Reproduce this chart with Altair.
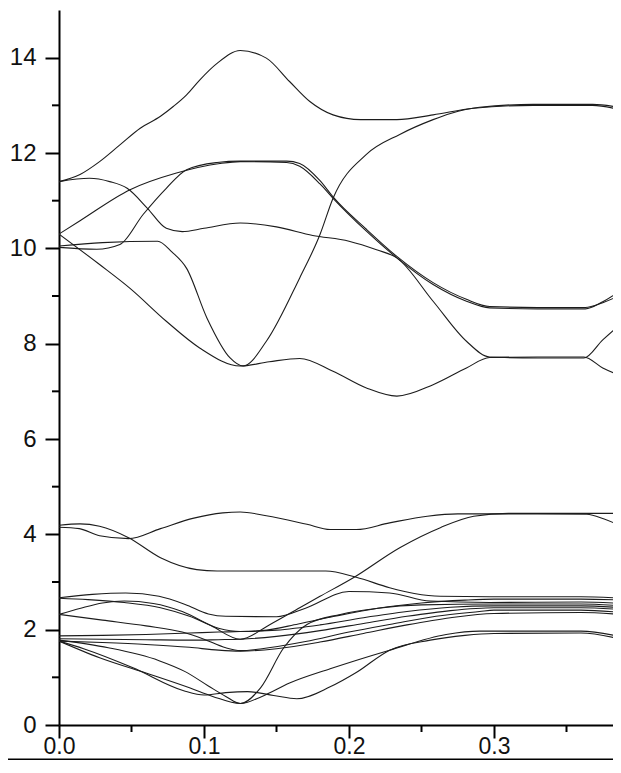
import altair as alt
import pandas as pd

# ---- band data: (wave-vector k, energy) ----
band_a = [(0.000, 11.40), (0.0145, 11.55), (0.028, 11.82), (0.042, 12.17), (0.056, 12.52),
          (0.070, 12.77), (0.079, 12.98), (0.088, 13.22), (0.097, 13.53), (0.109, 13.88),
          (0.125, 14.15), (0.143, 13.99), (0.159, 13.50), (0.173, 13.08), (0.189, 12.80),
          (0.208, 12.70), (0.233, 12.70), (0.258, 12.80), (0.286, 12.94), (0.327, 13.00),
          (0.368, 13.00), (0.388, 12.90)]
band_b = [(0.000, 11.40), (0.021, 11.47), (0.035, 11.40), (0.047, 11.26), (0.061, 10.84),
          (0.074, 10.42), (0.085, 10.35), (0.100, 10.42), (0.125, 10.53), (0.150, 10.45),
          (0.175, 10.27), (0.200, 10.15), (0.219, 9.97), (0.233, 9.80), (0.258, 8.89),
          (0.281, 8.05), (0.297, 7.72), (0.330, 7.70), (0.362, 7.70), (0.375, 8.08), (0.388, 8.43)]
band_c = [(0.000, 10.30), (0.0145, 10.58), (0.049, 11.23), (0.081, 11.58), (0.111, 11.78),
          (0.125, 11.82), (0.157, 11.80), (0.166, 11.72), (0.180, 11.35), (0.189, 11.05),
          (0.212, 10.36), (0.233, 9.80), (0.258, 9.24), (0.281, 8.89), (0.297, 8.75),
          (0.330, 8.73), (0.363, 8.73), (0.375, 8.88), (0.388, 9.13)]
band_d = [(0.000, 10.30), (0.028, 9.66), (0.049, 9.16), (0.074, 8.47), (0.097, 7.91),
          (0.125, 7.53), (0.145, 7.62), (0.166, 7.69), (0.189, 7.42), (0.212, 7.07),
          (0.233, 6.90), (0.258, 7.14), (0.281, 7.49), (0.297, 7.71), (0.330, 7.72),
          (0.362, 7.72), (0.375, 7.49), (0.388, 7.32)]
band_e = [(0.000, 10.05), (0.030, 10.12), (0.068, 10.15), (0.078, 9.92), (0.088, 9.58),
          (0.102, 8.54), (0.118, 7.70), (0.127, 7.53), (0.143, 8.05), (0.166, 9.38),
          (0.180, 10.29), (0.189, 11.05), (0.212, 11.97), (0.235, 12.39), (0.258, 12.70),
          (0.270, 12.83), (0.290, 12.96), (0.327, 13.02), (0.368, 13.02), (0.388, 12.95)]
band_f = [(0.000, 10.02), (0.026, 9.98), (0.042, 10.08), (0.058, 10.71), (0.074, 11.26),
          (0.088, 11.65), (0.109, 11.80), (0.125, 11.83), (0.157, 11.83), (0.166, 11.78),
          (0.180, 11.42), (0.189, 11.08), (0.212, 10.40), (0.233, 9.83), (0.258, 9.28),
          (0.281, 8.93), (0.297, 8.78), (0.330, 8.76), (0.363, 8.76), (0.375, 8.86), (0.388, 9.03)]

band_l1 = [(0.000, 4.19), (0.0145, 4.22), (0.028, 4.17), (0.048, 3.93), (0.070, 3.51),
           (0.095, 3.26), (0.109, 3.23), (0.150, 3.23), (0.184, 3.23), (0.205, 3.10),
           (0.228, 2.88), (0.245, 2.76), (0.263, 2.70), (0.297, 2.69), (0.360, 2.69), (0.388, 2.66)]
band_l2 = [(0.000, 4.15), (0.014, 4.12), (0.028, 3.97), (0.048, 3.91), (0.070, 4.12),
           (0.093, 4.34), (0.113, 4.45), (0.125, 4.47), (0.143, 4.39), (0.171, 4.21),
           (0.187, 4.10), (0.205, 4.10), (0.228, 4.24), (0.254, 4.38), (0.275, 4.43),
           (0.330, 4.43), (0.364, 4.42), (0.376, 4.32), (0.388, 4.17)]
band_l3 = [(0.000, 2.32), (0.015, 2.45), (0.030, 2.56), (0.045, 2.60), (0.065, 2.55),
           (0.085, 2.38), (0.105, 2.08), (0.125, 1.80), (0.145, 2.10), (0.166, 2.46),
           (0.180, 2.70), (0.203, 3.09), (0.235, 3.72), (0.263, 4.14), (0.286, 4.38),
           (0.310, 4.44), (0.360, 4.44), (0.388, 4.44)]
band_m1 = [(0.000, 2.67), (0.023, 2.74), (0.046, 2.77), (0.069, 2.70), (0.087, 2.53),
           (0.103, 2.33), (0.115, 2.28), (0.150, 2.27), (0.170, 2.45), (0.200, 2.80),
           (0.228, 2.77), (0.256, 2.60), (0.297, 2.57), (0.360, 2.58), (0.388, 2.55)]
band_m2 = [(0.000, 2.66), (0.020, 2.63), (0.045, 2.57), (0.070, 2.46), (0.090, 2.28),
           (0.110, 2.03), (0.125, 1.96), (0.140, 1.98), (0.165, 2.12), (0.190, 2.28),
           (0.220, 2.45), (0.250, 2.56), (0.280, 2.62), (0.300, 2.64), (0.360, 2.64), (0.388, 2.62)]
band_n1 = [(0.000, 2.32), (0.030, 2.20), (0.060, 2.08), (0.085, 1.95), (0.100, 1.80),
           (0.115, 1.62), (0.125, 1.56), (0.140, 1.60), (0.170, 1.75), (0.200, 1.95),
           (0.230, 2.12), (0.260, 2.28), (0.290, 2.38), (0.300, 2.41), (0.360, 2.41), (0.388, 2.36)]
band_r1 = [(0.000, 1.87), (0.030, 1.88), (0.060, 1.90), (0.090, 1.93), (0.110, 1.95),
           (0.125, 1.96), (0.150, 1.99), (0.180, 2.10), (0.210, 2.25), (0.240, 2.38),
           (0.270, 2.47), (0.300, 2.50), (0.360, 2.50), (0.388, 2.46)]
band_r2 = [(0.000, 1.81), (0.030, 1.80), (0.060, 1.79), (0.090, 1.78), (0.110, 1.79),
           (0.125, 1.80), (0.150, 1.86), (0.180, 1.98), (0.210, 2.13), (0.240, 2.28),
           (0.270, 2.40), (0.300, 2.46), (0.360, 2.46), (0.388, 2.42)]
band_r3 = [(0.000, 1.76), (0.030, 1.73), (0.060, 1.69), (0.090, 1.63), (0.110, 1.57),
           (0.125, 1.55), (0.150, 1.60), (0.180, 1.74), (0.210, 1.92), (0.240, 2.10),
           (0.270, 2.25), (0.300, 2.34), (0.360, 2.36), (0.388, 2.32)]
band_b1 = [(0.000, 1.76), (0.028, 1.41), (0.063, 1.06), (0.090, 0.78), (0.106, 0.60),
           (0.125, 0.45), (0.140, 0.60), (0.159, 0.88), (0.187, 1.18), (0.228, 1.57),
           (0.267, 1.90), (0.290, 1.97), (0.360, 1.97), (0.388, 1.85)]
band_bx = [(0.000, 1.78), (0.034, 1.62), (0.069, 1.35), (0.087, 1.12), (0.103, 0.82),
           (0.115, 0.60), (0.125, 0.45), (0.139, 0.78), (0.155, 1.62), (0.171, 2.11),
           (0.194, 2.32), (0.220, 2.45), (0.250, 2.52), (0.300, 2.54), (0.360, 2.54), (0.388, 2.50)]
band_b2 = [(0.000, 1.76), (0.017, 1.60), (0.051, 1.20), (0.086, 0.72), (0.100, 0.63),
           (0.115, 0.68), (0.130, 0.70), (0.148, 0.62), (0.164, 0.55), (0.187, 0.80),
           (0.205, 1.10), (0.228, 1.57), (0.256, 1.78), (0.280, 1.88), (0.300, 1.92),
           (0.360, 1.93), (0.388, 1.80)]

bands = {
    "A": band_a, "B": band_b, "C": band_c, "D": band_d, "E": band_e, "F": band_f,
    "L1": band_l1, "L2": band_l2, "L3": band_l3, "M1": band_m1, "M2": band_m2,
    "N1": band_n1, "R1": band_r1, "R2": band_r2, "R3": band_r3,
    "B1": band_b1, "BX": band_bx, "B2": band_b2,
}

x_major = [0.0, 0.1, 0.2, 0.3]
x_minor = [0.05, 0.15, 0.25, 0.35]
y_major = [0, 2, 4, 6, 8, 10, 12, 14]
y_minor = [1, 3, 5, 7, 9, 11, 13]

rows = []
for name, pts in bands.items():
    for i, (k, e) in enumerate(pts):
        rows.append({"band": name, "k": k, "E": e, "i": i})
df = pd.DataFrame(rows)

W, H = 554, 715
FONT = "Liberation Sans"
xscale = alt.Scale(domain=[0, 0.38207], nice=False, zero=False)
yscale = alt.Scale(domain=[0, 15], nice=False, zero=False)

lines = alt.Chart(df).mark_line(
    interpolate="monotone", color="#1c1c1c", strokeWidth=1.1, clip=True
).encode(
    x=alt.X("k:Q", scale=xscale, title=None,
            axis=alt.Axis(values=x_major, format=".1f", orient="bottom", tickSize=13,
                          tickWidth=2, domainWidth=2, domainColor="black", tickColor="black",
                          labelFont=FONT, labelFontSize=23, labelColor="#111",
                          labelPadding=-3, grid=False, labelFlush=False)),
    y=alt.Y("E:Q", scale=yscale, title=None,
            axis=alt.Axis(values=y_major, orient="left", tickSize=14, tickWidth=2,
                          domainWidth=2, domainColor="black", tickColor="black",
                          labelFont=FONT, labelFontSize=24, labelColor="#111",
                          labelPadding=9, grid=False, labelFlush=False)),
    detail="band:N",
    order="i:Q",
)

# minor ticks, positioned through the shared scales
minor_x = alt.Chart(pd.DataFrame({"k": x_minor})).mark_rule(
    color="black", strokeWidth=2, clip=False
).encode(x="k:Q", y=alt.value(H), y2=alt.value(H + 7))
minor_y = alt.Chart(pd.DataFrame({"E": y_minor})).mark_rule(
    color="black", strokeWidth=2, clip=False
).encode(y="E:Q", x=alt.value(-7), x2=alt.value(0))

border = alt.Chart(pd.DataFrame({"b": [0]})).mark_rule(color="black", strokeWidth=2).encode(
    x=alt.value(-51), x2=alt.value(W), y=alt.value(H + 34.5)
)

chart = alt.layer(lines, minor_x, minor_y, border).properties(
    width=W, height=H,
    background="white",
    autosize=alt.AutoSizeParams(type="none"),
    padding={"left": 51, "top": 2, "right": 0, "bottom": 35},
).configure_view(strokeWidth=0, stroke="transparent")

chart.save("out.html", embed_options={"renderer": "svg", "actions": False})
